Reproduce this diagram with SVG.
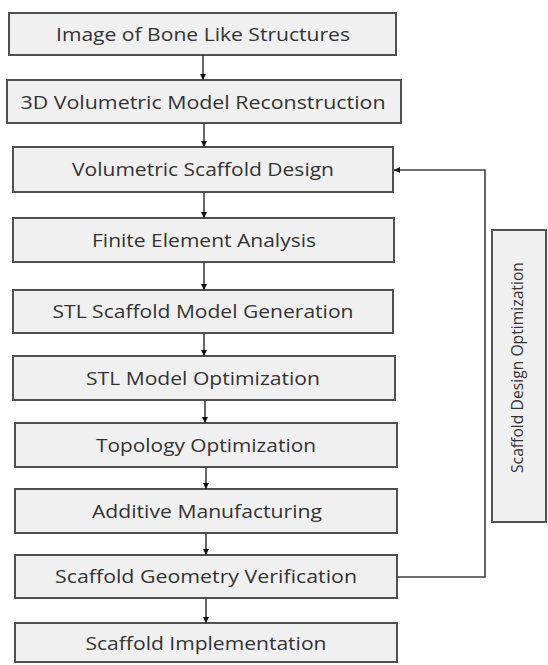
<svg xmlns="http://www.w3.org/2000/svg" width="548" height="665" viewBox="0 0 548 665">
<defs>
<style>
.box{fill:#f0f0f0;stroke:#505050;stroke-width:2}
.lbl{font-family:"Open Sans","Liberation Sans",sans-serif;font-size:18.5px;fill:#333333;text-anchor:middle}
.side{font-family:"Open Sans","Liberation Sans",sans-serif;font-size:16px;fill:#333333;text-anchor:middle}
.con{fill:none;stroke:#404040;stroke-width:1.6}
</style>
<marker id="ah" viewBox="0 0 10 10" refX="10" refY="5" markerWidth="6" markerHeight="6" orient="auto" markerUnits="userSpaceOnUse">
<path d="M0,0 L10,5 L0,10 z" fill="#111"/>
</marker>
</defs>
<rect width="548" height="665" fill="#ffffff"/>
<g id="n1"><rect class="box" x="9" y="13" width="387" height="42"/><text class="lbl" x="203" y="40.5" textLength="294" lengthAdjust="spacingAndGlyphs">Image of Bone Like Structures</text></g>
<g id="n2"><rect class="box" x="7" y="80" width="394" height="43"/><text class="lbl" x="203" y="108.5" textLength="365" lengthAdjust="spacingAndGlyphs">3D Volumetric Model Reconstruction</text></g>
<g id="n3"><rect class="box" x="13" y="147" width="380" height="45"/><text class="lbl" x="203" y="175.5" textLength="262" lengthAdjust="spacingAndGlyphs">Volumetric Scaffold Design</text></g>
<g id="n4"><rect class="box" x="13" y="218" width="381" height="44"/><text class="lbl" x="204" y="246.5" textLength="224" lengthAdjust="spacingAndGlyphs">Finite Element Analysis</text></g>
<g id="n5"><rect class="box" x="13" y="290" width="380" height="43"/><text class="lbl" x="203" y="317.5" textLength="301" lengthAdjust="spacingAndGlyphs">STL Scaffold Model Generation</text></g>
<g id="n6"><rect class="box" x="13" y="356" width="382" height="44"/><text class="lbl" x="203" y="384.5" textLength="234" lengthAdjust="spacingAndGlyphs">STL Model Optimization</text></g>
<g id="n7"><rect class="box" x="15" y="423" width="382" height="44"/><text class="lbl" x="206" y="451.5" textLength="220" lengthAdjust="spacingAndGlyphs">Topology Optimization</text></g>
<g id="n8"><rect class="box" x="15" y="489" width="382" height="44"/><text class="lbl" x="207" y="517.5" textLength="230" lengthAdjust="spacingAndGlyphs">Additive Manufacturing</text></g>
<g id="n9"><rect class="box" x="15" y="555" width="382" height="43"/><text class="lbl" x="206" y="582.5" textLength="302" lengthAdjust="spacingAndGlyphs">Scaffold Geometry Verification</text></g>
<g id="n10"><rect class="box" x="15" y="623" width="382" height="39"/><text class="lbl" x="206" y="649.5" textLength="241" lengthAdjust="spacingAndGlyphs">Scaffold Implementation</text></g>
<g id="n11"><rect class="box" x="492" y="230" width="54" height="292"/><text class="side" transform="translate(523,367.5) rotate(-90)" textLength="211" lengthAdjust="spacingAndGlyphs">Scaffold Design Optimization</text></g>
<g id="connectors">
<line class="con" x1="203" y1="55" x2="203" y2="80" marker-end="url(#ah)"/>
<line class="con" x1="204" y1="123" x2="204" y2="147" marker-end="url(#ah)"/>
<line class="con" x1="204" y1="192" x2="204" y2="218" marker-end="url(#ah)"/>
<line class="con" x1="204" y1="262" x2="204" y2="290" marker-end="url(#ah)"/>
<line class="con" x1="204" y1="333" x2="204" y2="356" marker-end="url(#ah)"/>
<line class="con" x1="205" y1="400" x2="205" y2="423" marker-end="url(#ah)"/>
<line class="con" x1="206" y1="467" x2="206" y2="489" marker-end="url(#ah)"/>
<line class="con" x1="206" y1="533" x2="206" y2="555" marker-end="url(#ah)"/>
<line class="con" x1="206" y1="598" x2="206" y2="623" marker-end="url(#ah)"/>
<polyline class="con" points="397,577 485,577 485,170 394,170" marker-end="url(#ah)"/>
</g>
</svg>
